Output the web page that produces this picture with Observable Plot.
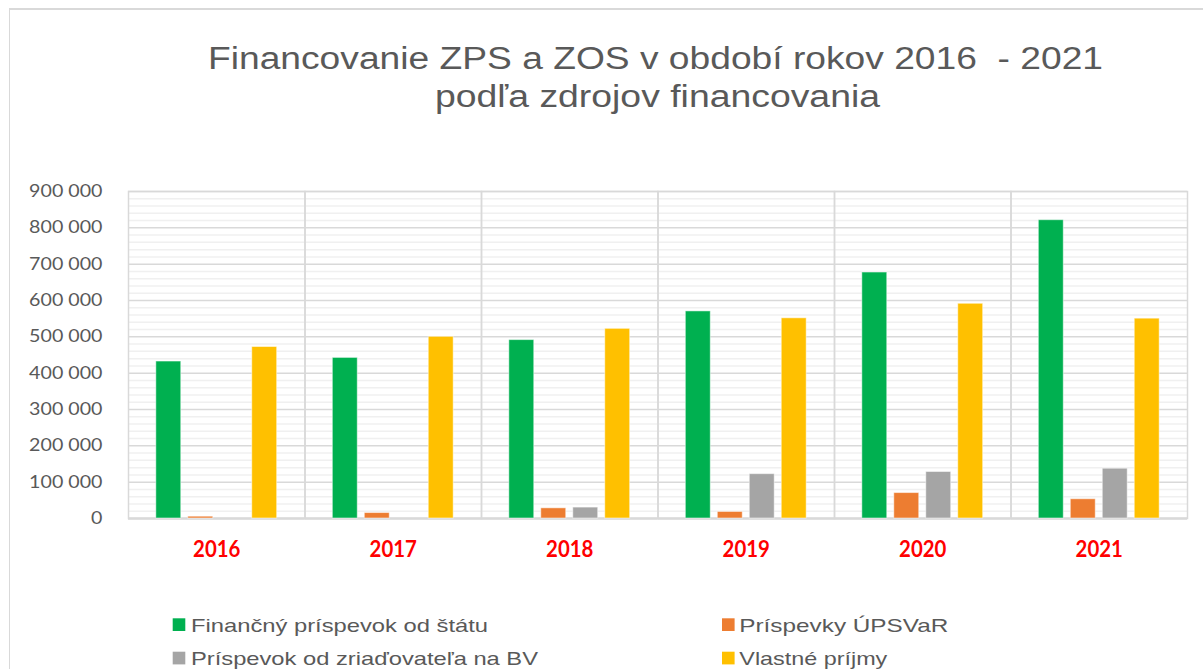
<!DOCTYPE html>
<html>
<head>
<meta charset="utf-8">
<script src="https://cdn.jsdelivr.net/npm/d3@7"></script>
<script src="https://cdn.jsdelivr.net/npm/@observablehq/plot@0.6"></script>
<style>
  html, body { margin: 0; padding: 0; background: #fff; }
  body { width: 1203px; height: 669px; overflow: hidden; position: relative; }
  #border { position: absolute; left: 9px; top: 8px; width: 1400px; height: 800px;
            border-left: 1.5px solid #d9d9d9; border-top: 2px solid #d9d9d9; box-sizing: border-box; }
  #chart { position: absolute; left: 0; top: 150px; }
  #overlay { position: absolute; left: 0; top: 0; }
  #chart [aria-label^="fx-axis"] text { fill: #ff0000; font-weight: bold; font-size: 22px; }
  #chart [aria-label^="y-axis"] text { fill: #595959; }
</style>
</head>
<body>
<div id="border"></div>
<div id="chart"></div>
<svg id="overlay" width="1203" height="669" font-family="Liberation Sans, Arial, sans-serif" fill="#595959">
  <text x="208" y="69.3" font-size="31" textLength="895" lengthAdjust="spacingAndGlyphs" xml:space="preserve">Financovanie ZPS a ZOS v období rokov 2016  - 2021</text>
  <text x="435" y="106.8" font-size="31" textLength="445" lengthAdjust="spacingAndGlyphs">podľa zdrojov financovania</text>
  <g id="legend"></g>
</svg>
<script>
const years = ["2016", "2017", "2018", "2019", "2020", "2021"];
const seriesNames = [
  "Finančný príspevok od štátu",
  "Príspevky ÚPSVaR",
  "Príspevok od zriaďovateľa na BV",
  "Vlastné príjmy"
];
const seriesColors = ["#00b050", "#ed7d31", "#a5a5a5", "#ffc000"];
const statnyPrispevok = [432000, 442000, 491000, 570000, 677000, 821000];
const prispevkyUpsvar = [5000, 15000, 28000, 18000, 70000, 53000];
const prispevokZriadovatela = [0, 0, 30000, 122000, 128000, 137000];
const vlastnePrijmy = [472000, 500000, 522000, 551000, 591000, 550000];
const yTicks = [0, 100000, 200000, 300000, 400000, 500000, 600000, 700000, 800000, 900000];

const seriesValues = [statnyPrispevok, prispevkyUpsvar, prispevokZriadovatela, vlastnePrijmy];
const table = [];
years.forEach((yr, i) => {
  seriesNames.forEach((s, j) => {
    table.push({year: yr, series: s, value: seriesValues[j][i]});
  });
});

const minorTicks = d3.range(0, 900001, 20000).filter(v => v % 100000 !== 0);
const majorTicks = yTicks.filter(v => v > 0);
const fmt = d => d3.format(",")(d).replace(/,/g, " ");

const chart = Plot.plot({
  width: 1203,
  height: 420,
  marginLeft: 128,
  marginRight: 16,
  marginTop: 41,
  marginBottom: 52,
  style: {fontFamily: "Lato, sans-serif", fontSize: "16.7px", background: "transparent"},
  fx: {domain: years, padding: 0, round: false, label: null, axis: "bottom", tickSize: 0, tickPadding: 23},
  x: {domain: seriesNames, axis: null, round: false, paddingInner: 0.22, paddingOuter: 0.87},
  y: {domain: [0, 900000], ticks: yTicks, tickFormat: fmt, tickSize: 0, tickPadding: 26, label: null},
  color: {domain: seriesNames, range: seriesColors},
  marks: [
    Plot.gridY(minorTicks, {stroke: "#f0f0f0", strokeOpacity: 1, strokeWidth: 1.5}),
    Plot.gridY(majorTicks, {stroke: "#d9d9d9", strokeOpacity: 1, strokeWidth: 1.5}),
    Plot.frame({stroke: "#d9d9d9", strokeWidth: 1.5}),
    Plot.ruleY([0], {stroke: "#d9d9d9", strokeWidth: 2.5}),
    Plot.barY(table.filter(d => d.value > 0), {fx: "year", x: "series", y: "value", fill: "series",
                      stroke: "#ffffff", strokeOpacity: 0.5, strokeWidth: 1})
  ]
});
document.getElementById("chart").appendChild(chart);

// Stretch tick labels horizontally to match the reference's wide glyph proportions
function stretch(selector, refText, targetWidth) {
  const texts = Array.from(chart.querySelectorAll(selector));
  if (!texts.length) return;
  const ref = texts.find(t => t.textContent === refText) || texts[0];
  const k = targetWidth / ref.getComputedTextLength();
  texts.forEach(t => {
    const w = t.getComputedTextLength();
    t.setAttribute("textLength", (w * k).toFixed(2));
    t.setAttribute("lengthAdjust", "spacingAndGlyphs");
  });
}
stretch('[aria-label^="y-axis"] text', "900 000", 73.4);
stretch('[aria-label^="fx-axis"] text', "2016", 47.3);

// legend
const legendItems = [
  {sx: 172.7, sy: 618.3, tx: 191, ty: 631.7, w: 297},
  {sx: 722, sy: 618.3, tx: 739.3, ty: 631.7, w: 209},
  {sx: 172.7, sy: 651.7, tx: 191, ty: 665, w: 347},
  {sx: 722, sy: 651.7, tx: 739.3, ty: 665, w: 148}
];
const ns = "http://www.w3.org/2000/svg";
const lg = document.getElementById("legend");
seriesNames.forEach((s, i) => {
  const p = legendItems[i];
  const r = document.createElementNS(ns, "rect");
  r.setAttribute("x", p.sx); r.setAttribute("y", p.sy);
  r.setAttribute("width", 12.6); r.setAttribute("height", 12.7);
  r.setAttribute("fill", seriesColors[i]);
  lg.appendChild(r);
  const t = document.createElementNS(ns, "text");
  t.setAttribute("x", p.tx); t.setAttribute("y", p.ty);
  t.setAttribute("font-size", 18.6);
  t.setAttribute("textLength", p.w);
  t.setAttribute("lengthAdjust", "spacingAndGlyphs");
  t.textContent = s;
  lg.appendChild(t);
});
</script>
</body>
</html>
